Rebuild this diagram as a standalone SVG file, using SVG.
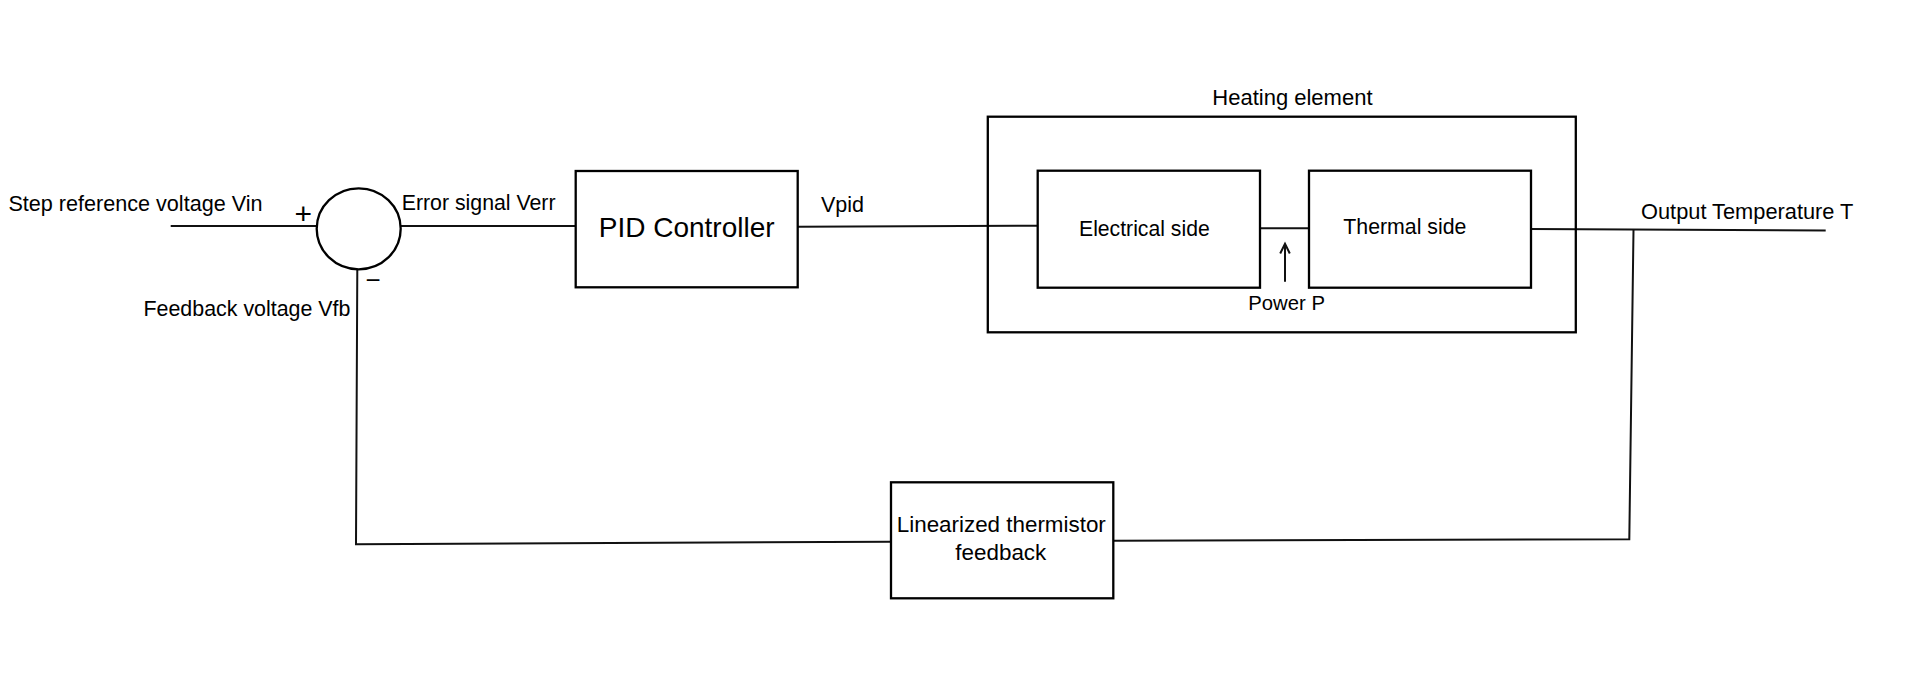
<svg xmlns="http://www.w3.org/2000/svg" width="1920" height="679" viewBox="0 0 1920 679">
<style>
.box{fill:#fff;stroke:#000;stroke-width:2.3}
.ln{fill:none;stroke:#111;stroke-width:2}
text{font-family:"Liberation Sans",Arial,sans-serif;fill:#000}
</style>
<rect width="1920" height="679" fill="#fff"/>
<g id="connectors">
<polyline class="ln" points="170.7,226 316.7,226"/>
<polyline class="ln" points="400.7,226 576,226"/>
<polyline class="ln" points="797.7,226.7 1037.5,225.7"/>
<polyline class="ln" points="1260,228.3 1309,228.3"/>
<polyline class="ln" points="1531,229 1825.7,230.5"/>
<polyline class="ln" points="1633.5,230 1629.3,539.3 1113.3,540.7"/>
<polyline class="ln" points="891,541.7 356,544.3 357.3,269.3"/>
<path class="ln" d="M1285,281.7 V244.5 M1280.2,253.5 L1285,243.8 L1289.8,253.5"/>
</g>
<g id="labels">
<text x="8.4" y="211" font-size="21.6">Step reference voltage Vin</text>
<text x="401.7" y="210" font-size="21.3">Error signal Verr</text>
<text x="821" y="211.7" font-size="21.5">Vpid</text>
<text x="1641" y="219.3" font-size="21.8">Output Temperature T</text>
<text x="143.5" y="316" font-size="21.4">Feedback voltage Vfb</text>
<text x="1248.3" y="310" font-size="20.3">Power P</text>
<text x="303.3" y="223.6" font-size="30" text-anchor="middle">+</text>
<text x="373" y="288.5" font-size="26" text-anchor="middle">−</text>
</g>
<g id="sum">
<ellipse class="box" cx="358.7" cy="228.8" rx="42" ry="40.5"/>
</g>
<g id="pid">
<rect class="box" x="575.7" y="171" width="222" height="116.3"/>
<text x="686.7" y="237.3" font-size="28" text-anchor="middle">PID Controller</text>
</g>
<g id="heating">
<rect class="box" x="987.8" y="116.7" width="588" height="215.6" fill="none" style="fill:none"/>
<text x="1212.3" y="105" font-size="22">Heating element</text>
</g>
<g id="electrical">
<rect class="box" x="1037.7" y="170.7" width="222.3" height="117"/>
<text x="1079" y="235.7" font-size="21.2">Electrical side</text>
</g>
<g id="thermal">
<rect class="box" x="1309" y="170.7" width="222" height="117"/>
<text x="1343.3" y="234" font-size="21.3">Thermal side</text>
</g>
<g id="feedback">
<rect class="box" x="891" y="482.3" width="222.3" height="116"/>
<text x="1001.3" y="531.7" font-size="22.4" text-anchor="middle">Linearized thermistor</text>
<text x="1000.8" y="560" font-size="22.4" text-anchor="middle">feedback</text>
</g>
</svg>
